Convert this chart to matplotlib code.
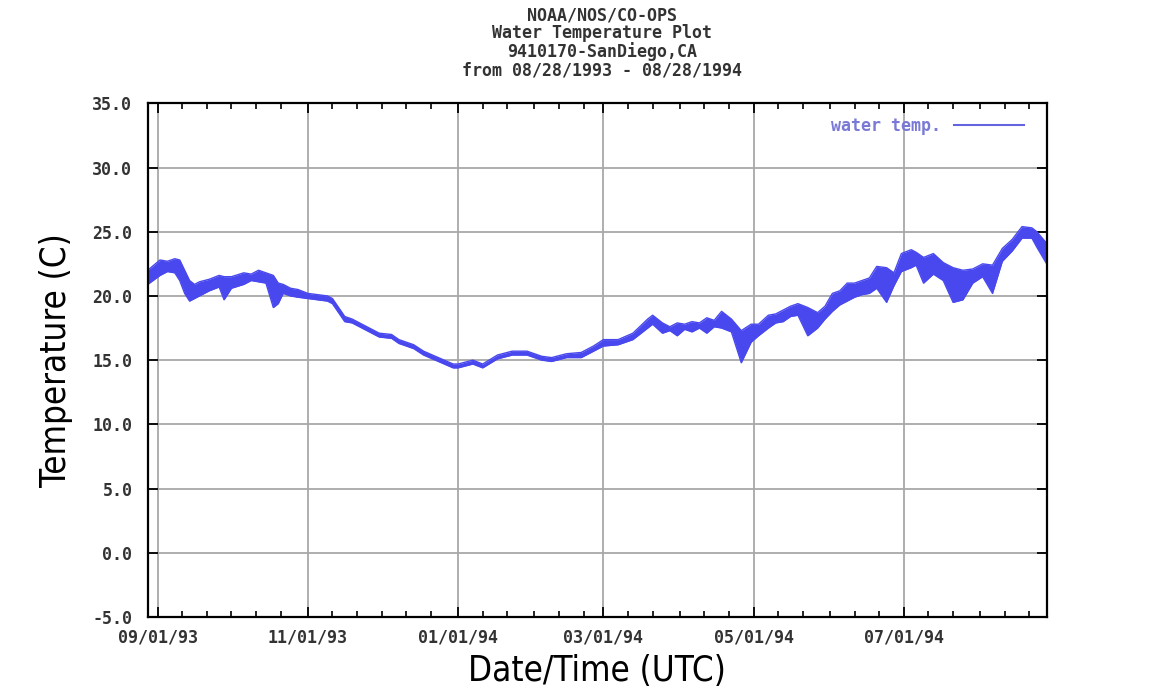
import matplotlib
matplotlib.use("Agg")
import matplotlib.pyplot as plt
import matplotlib.dates as mdates
from matplotlib.lines import Line2D
from matplotlib import font_manager
import numpy as np

# valores (envelope inferior / superior da serie)
datas = ['1993-08-28', '1993-09-02', '1993-09-05', '1993-09-08', '1993-09-10', '1993-09-12',
         '1993-09-14', '1993-09-16', '1993-09-18', '1993-09-22', '1993-09-26', '1993-09-28',
         '1993-10-01', '1993-10-06', '1993-10-09', '1993-10-12', '1993-10-15', '1993-10-18',
         '1993-10-20', '1993-10-22', '1993-10-25', '1993-10-28', '1993-11-01', '1993-11-05',
         '1993-11-09', '1993-11-11', '1993-11-16', '1993-11-19', '1993-11-22', '1993-11-26',
         '1993-11-30', '1993-12-05', '1993-12-08', '1993-12-14', '1993-12-18', '1993-12-24',
         '1993-12-30', '1994-01-01', '1994-01-07', '1994-01-11', '1994-01-17', '1994-01-23',
         '1994-01-29', '1994-02-04', '1994-02-08', '1994-02-14', '1994-02-20', '1994-02-25',
         '1994-03-01', '1994-03-07', '1994-03-13', '1994-03-19', '1994-03-21', '1994-03-25',
         '1994-03-28', '1994-03-31', '1994-04-03', '1994-04-06', '1994-04-09', '1994-04-12',
         '1994-04-15', '1994-04-18', '1994-04-22', '1994-04-26', '1994-04-30', '1994-05-03',
         '1994-05-07', '1994-05-10', '1994-05-13', '1994-05-16', '1994-05-19', '1994-05-23',
         '1994-05-27', '1994-05-30', '1994-06-02', '1994-06-05', '1994-06-08', '1994-06-11',
         '1994-06-14', '1994-06-17', '1994-06-20', '1994-06-24', '1994-06-27', '1994-06-30',
         '1994-07-04', '1994-07-06', '1994-07-09', '1994-07-13', '1994-07-17', '1994-07-21',
         '1994-07-25', '1994-07-29', '1994-08-02', '1994-08-06', '1994-08-10', '1994-08-14',
         '1994-08-18', '1994-08-22', '1994-08-24', '1994-08-28']

temp_min = [20.9, 21.6, 21.9, 21.8, 21.2, 20.2,
            19.6, 19.8, 20.0, 20.4, 20.7, 19.7,
            20.6, 20.9, 21.2, 21.1, 21.0, 19.1,
            19.4, 20.2, 20.0, 19.9, 19.8, 19.7,
            19.6, 19.4, 18.0, 17.9, 17.6, 17.2,
            16.8, 16.7, 16.3, 15.9, 15.4, 14.9,
            14.4, 14.4, 14.7, 14.4, 15.1, 15.4,
            15.4, 15.0, 14.9, 15.2, 15.2, 15.7,
            16.1, 16.2, 16.6, 17.5, 17.8, 17.1,
            17.3, 16.9, 17.4, 17.2, 17.5, 17.1,
            17.6, 17.5, 17.2, 14.8, 16.4, 16.9,
            17.5, 17.9, 18.0, 18.4, 18.5, 16.9,
            17.5, 18.2, 18.8, 19.3, 19.6, 19.9,
            20.1, 20.2, 20.6, 19.5, 20.8, 21.9,
            22.2, 22.4, 21.0, 21.7, 21.2, 19.5,
            19.7, 21.0, 21.5, 20.2, 22.7, 23.5,
            24.5, 24.5, 23.8, 22.5]

temp_max = [22.0, 22.8, 22.7, 22.9, 22.8, 22.0,
            21.2, 20.9, 21.1, 21.3, 21.6, 21.5,
            21.5, 21.8, 21.7, 22.0, 21.8, 21.6,
            21.0, 20.9, 20.6, 20.5, 20.2, 20.1,
            20.0, 19.8, 18.4, 18.2, 17.9, 17.5,
            17.1, 17.0, 16.6, 16.2, 15.7, 15.2,
            14.7, 14.7, 15.0, 14.7, 15.4, 15.7,
            15.7, 15.3, 15.2, 15.5, 15.6, 16.1,
            16.6, 16.6, 17.1, 18.2, 18.5, 17.9,
            17.6, 17.9, 17.8, 18.0, 17.9, 18.3,
            18.1, 18.8, 18.2, 17.3, 17.8, 17.8,
            18.5, 18.6, 18.9, 19.2, 19.4, 19.1,
            18.7, 19.2, 20.2, 20.4, 21.0, 21.0,
            21.2, 21.4, 22.3, 22.2, 21.8, 23.3,
            23.6, 23.4, 23.0, 23.3, 22.6, 22.2,
            22.0, 22.1, 22.5, 22.4, 23.7, 24.4,
            25.4, 25.3, 25.0, 24.1]

titulo = ['NOAA/NOS/CO-OPS', 'Water Temperature Plot',
          '9410170-SanDiego,CA', 'from 08/28/1993 - 08/28/1994']

azul = '#4848ee'
mono = 'DejaVu Sans Mono'

# fonte estreita para os rotulos dos eixos, se existir
nomes = {f.name for f in font_manager.fontManager.ttflist}
if 'Liberation Sans Narrow' in nomes:
    fonte_eixo = dict(fontfamily='Liberation Sans Narrow', fontsize=30)
else:
    arq = font_manager.findfont(font_manager.FontProperties(family='DejaVu Sans', stretch='condensed'))
    if 'Condensed' in arq:
        fonte_eixo = dict(fontfamily='DejaVu Sans', fontstretch='condensed', fontsize=25)
    else:
        fonte_eixo = dict(fontfamily='DejaVu Sans', fontsize=23)

x = np.array(datas, dtype='datetime64[D]').astype('O')

fig = plt.figure(figsize=(11.54, 6.98), dpi=100)
ax = fig.add_axes([0.128, 0.116, 0.779, 0.736])

ax.fill_between(x, temp_min, temp_max, color=azul, lw=0)
ax.plot(x, temp_min, color=azul, lw=1.0)
ax.plot(x, temp_max, color=azul, lw=1.0)

ax.set_xlim(np.datetime64('1993-08-28').astype('O'), np.datetime64('1994-08-28').astype('O'))
ax.set_ylim(-5, 35)
ax.set_yticks(np.arange(-5, 36, 5))
ax.yaxis.set_major_formatter(plt.FormatStrFormatter('%.1f'))

ax.xaxis.set_major_locator(mdates.MonthLocator(bymonth=[1, 3, 5, 7, 9, 11]))
ax.xaxis.set_minor_locator(mdates.DayLocator(bymonthday=[1, 11, 21]))
ax.xaxis.set_major_formatter(mdates.DateFormatter('%m/%d/%y'))

ax.grid(True, which='major', color='#a8a8a8', lw=1.3)
ax.set_axisbelow(True)
for s in ax.spines.values():
    s.set_linewidth(1.6)

ax.tick_params(which='both', direction='in', top=True, right=True, color='black')
ax.tick_params(which='major', length=7, width=1.3)
ax.tick_params(which='minor', length=4, width=1.2)
ax.tick_params(axis='y', pad=11)
ax.tick_params(axis='x', pad=8)
for lab in ax.get_xticklabels() + ax.get_yticklabels():
    lab.set_fontfamily(mono)
    lab.set_fontsize(12)
    lab.set_fontweight('bold')
    lab.set_color('#333333')

ax.set_xlabel('Date/Time (UTC)', labelpad=6, **fonte_eixo)
ax.set_ylabel('Temperature (C)', labelpad=14, **fonte_eixo)

# legenda com a linha depois do texto
h = Line2D([], [], color='#6464e0', lw=1.5)
leg = ax.legend([h], ['water temp.'], loc='upper right', frameon=False, markerfirst=False,
                handlelength=4.2, prop={'family': mono, 'size': 12, 'weight': 'bold'},
                borderaxespad=0.4, bbox_to_anchor=(0.99, 1.0))
for t in leg.get_texts():
    t.set_color('#7a7ad6')

for i, linha in enumerate(titulo):
    fig.text(0.522, 1 - (15 + 18.5 * i) / 698, linha, ha='center', va='center',
             fontfamily=mono, fontsize=12, fontweight='bold', color='#333333')

fig.savefig('out.png', dpi=100)
